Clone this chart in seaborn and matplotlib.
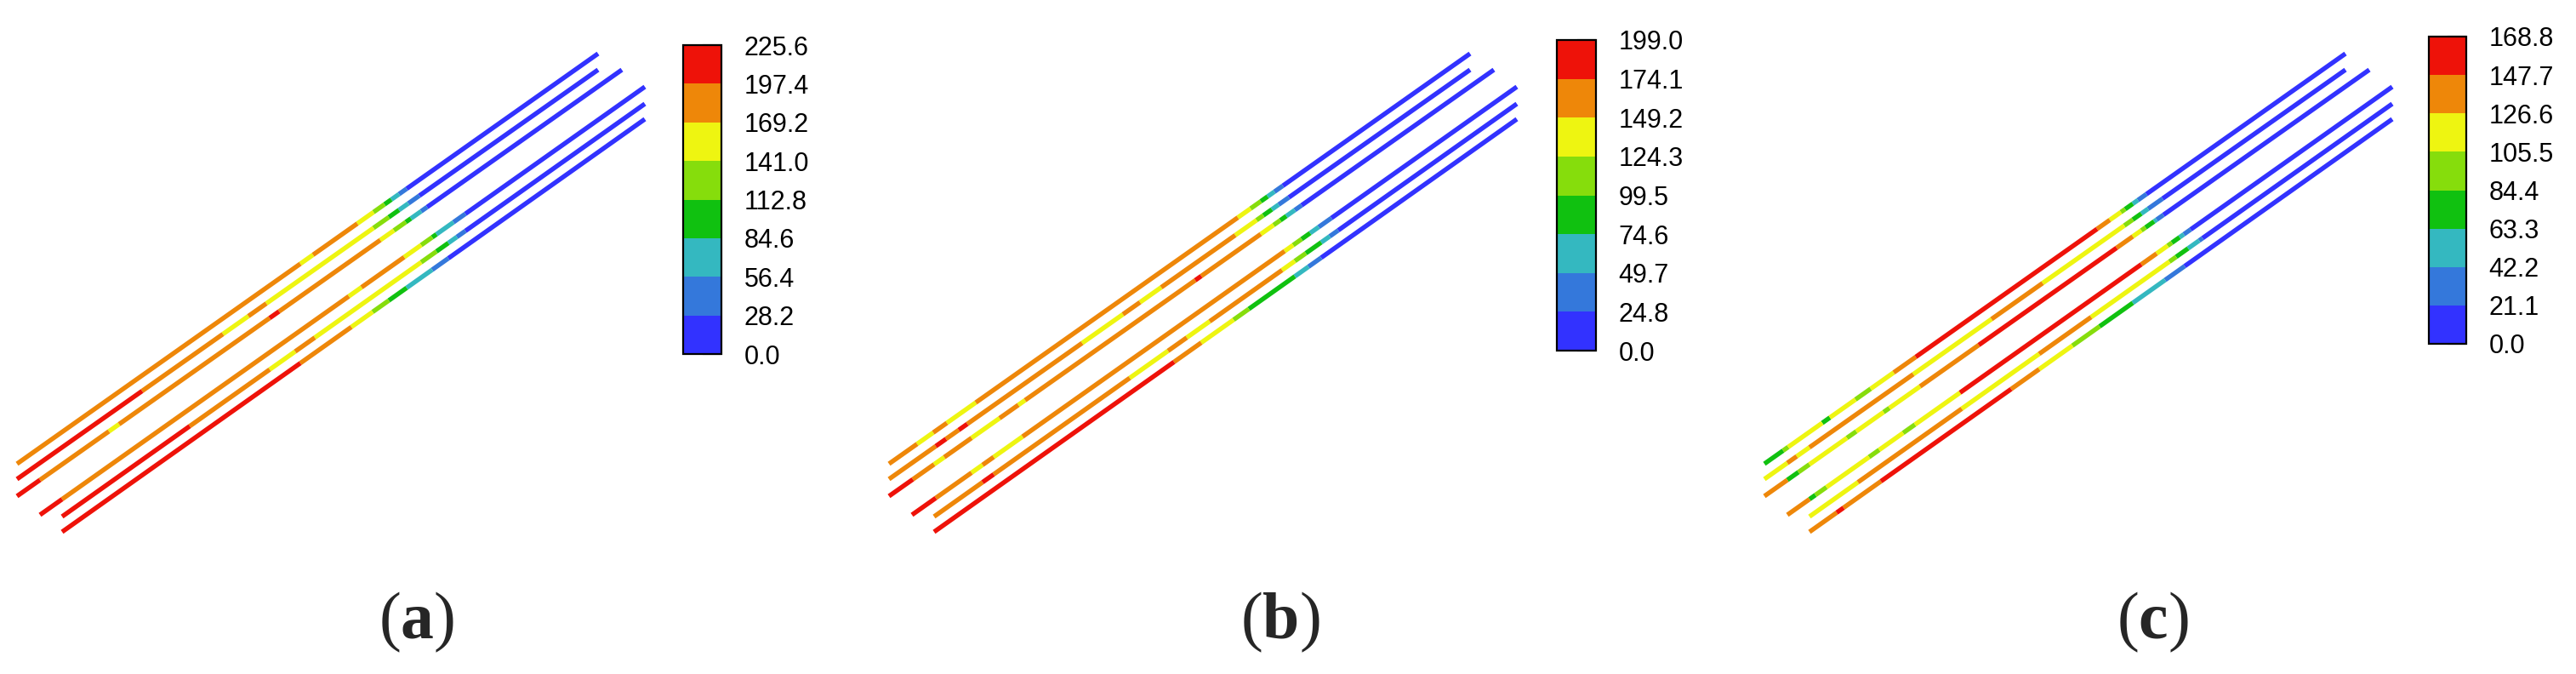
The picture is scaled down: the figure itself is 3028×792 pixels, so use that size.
import numpy as np
import pandas as pd
import matplotlib
matplotlib.use("Agg")
import matplotlib.pyplot as plt
from matplotlib.colors import ListedColormap, BoundaryNorm
from matplotlib.cm import ScalarMappable
from matplotlib import font_manager
import seaborn as sns

# tube centre lines (same view in all three panels), image units
tube_x0 = [20, 20, 20, 47, 73, 73]
tube_y0 = [545, 563, 583, 605, 607, 625]
tube_x1 = [703, 703, 731, 758, 758, 758]
tube_y1 = [63, 82, 82, 102, 122, 140]

# contour levels shown on the colour bars
levels_a = [0.0, 28.2, 56.4, 84.6, 112.8, 141.0, 169.2, 197.4, 225.6]
levels_b = [0.0, 24.8, 49.7, 74.6, 99.5, 124.3, 149.2, 174.1, 199.0]
levels_c = [0.0, 21.1, 42.2, 63.3, 84.4, 105.5, 126.6, 147.7, 168.8]

band_colors = ["#3232FF", "#3478DB", "#34B8C0", "#10C110",
               "#86DD0C", "#EEF511", "#EE8709", "#EE1209"]

# value along each tube: break positions (x) and value of each piece
breaks_a = [
    [20, 353, 368, 420, 439, 452, 460, 469, 478, 703],
    [20, 167, 262, 292, 313, 439, 457, 469, 480, 493, 703],
    [20, 47, 128, 140, 317, 328, 447, 463, 477, 483, 495, 502, 731],
    [47, 73, 410, 425, 475, 495, 508, 513, 533, 547, 758],
    [73, 223, 317, 347, 370, 495, 513, 527, 537, 547, 758],
    [73, 353, 413, 438, 457, 478, 508, 527, 758],
]
vals_a = [
    [183, 155, 183, 155, 127, 99, 70, 42, 14],
    [211, 183, 155, 183, 155, 127, 99, 70, 42, 14],
    [211, 183, 155, 183, 211, 183, 155, 127, 99, 70, 42, 14],
    [211, 183, 155, 183, 155, 127, 99, 70, 42, 14],
    [211, 183, 155, 183, 155, 127, 99, 70, 42, 14],
    [211, 183, 155, 127, 99, 70, 42, 14],
]

breaks_b = [
    [20, 53, 72, 88, 122, 430, 445, 457, 465, 473, 483, 703],
    [20, 75, 87, 102, 112, 247, 295, 315, 340, 427, 452, 460, 470, 478, 490, 703],
    [20, 48, 73, 85, 117, 150, 172, 180, 380, 387, 457, 472, 480, 487, 497, 505, 731],
    [47, 75, 117, 130, 143, 177, 485, 495, 505, 515, 525, 540, 758],
    [73, 130, 143, 303, 348, 370, 397, 482, 497, 510, 528, 538, 548, 758],
    [73, 355, 387, 425, 443, 497, 513, 528, 758],
]
vals_b = [
    [162, 137, 162, 137, 162, 137, 112, 87, 62, 37, 12],
    [162, 186, 162, 186, 162, 137, 162, 137, 162, 137, 112, 87, 62, 37, 12],
    [186, 162, 137, 162, 137, 162, 137, 162, 186, 162, 137, 112, 87, 62, 37, 12],
    [186, 162, 137, 162, 137, 162, 137, 112, 87, 62, 37, 12],
    [162, 186, 162, 137, 162, 137, 162, 137, 112, 87, 62, 37, 12],
    [186, 162, 137, 112, 87, 62, 37, 12],
]

breaks_c = [
    [20, 42, 48, 88, 97, 127, 145, 172, 198, 411, 426, 439, 444, 453, 459, 469, 703],
    [20, 47, 58, 73, 195, 287, 347, 443, 453, 463, 471, 488, 703],
    [20, 47, 60, 73, 117, 128, 160, 167, 203, 272, 434, 453, 463, 468, 478, 481, 489, 731],
    [47, 73, 80, 93, 143, 155, 183, 197, 250, 463, 481, 494, 499, 508, 513, 521, 758],
    [73, 130, 252, 343, 404, 496, 504, 518, 531, 535, 758],
    [73, 105, 113, 157, 310, 343, 382, 414, 453, 491, 514, 758],
]
vals_c = [
    [74, 95, 116, 74, 116, 95, 116, 137, 158, 137, 116, 95, 74, 53, 32, 11],
    [116, 137, 116, 137, 116, 137, 116, 95, 74, 53, 32, 11],
    [137, 74, 95, 116, 95, 116, 95, 116, 137, 158, 137, 116, 95, 74, 53, 32, 11],
    [137, 74, 95, 116, 95, 116, 95, 116, 158, 137, 116, 95, 74, 53, 32, 11],
    [116, 137, 116, 137, 116, 95, 74, 53, 32, 11],
    [137, 158, 137, 158, 137, 116, 95, 74, 53, 32, 11],
]

panel_labels = ["a", "b", "c"]

W, H = 3028, 792

sns.set_theme(style="white")
names = {f.name for f in font_manager.fontManager.ttflist}
tick_font = "Liberation Sans Narrow" if "Liberation Sans Narrow" in names else "Liberation Sans"
plt.rcParams["font.family"] = ["Liberation Sans", "DejaVu Sans"]
plt.rcParams["mathtext.fontset"] = "custom"
plt.rcParams["mathtext.rm"] = "Liberation Serif"
plt.rcParams["mathtext.bf"] = "Liberation Serif:bold"


def tube_frame(breaks, vals):
    rows = []
    for i, (bk, vv) in enumerate(zip(breaks, vals)):
        slope = (tube_y1[i] - tube_y0[i]) / (tube_x1[i] - tube_x0[i])
        for j, v in enumerate(vv):
            for xb in (bk[j], bk[j + 1]):
                rows.append({"x": xb,
                             "y": tube_y0[i] + (xb - tube_x0[i]) * slope,
                             "value": v, "seg": f"{i}-{j}"})
    return pd.DataFrame(rows)


def px_box(x0, y0, x1, y1):
    return [x0 / W, 1 - y1 / H, (x1 - x0) / W, (y1 - y0) / H]


fig = plt.figure(figsize=(W / 100, H / 100), dpi=100)
cmap = ListedColormap(sns.color_palette(band_colors))

panels = [(breaks_a, vals_a, levels_a), (breaks_b, vals_b, levels_b),
          (breaks_c, vals_c, levels_c)]
offsets = [0, 1025, 2054]
cbar_boxes = [(803, 53, 848, 416), (1830, 47, 1876, 412), (2855, 43, 2899, 404)]
label_x = [490, 1505, 2530]

for (bk, vv, lev), off, cbox, lx, lab in zip(panels, offsets, cbar_boxes,
                                              label_x, panel_labels):
    norm = BoundaryNorm(lev, cmap.N)
    ax = fig.add_axes(px_box(off, 0, off + 800, H))
    df = tube_frame(bk, vv)
    sns.lineplot(data=df, x="x", y="y", hue="value", units="seg",
                 estimator=None, sort=False, palette=cmap, hue_norm=norm,
                 legend=False, linewidth=3.9, solid_capstyle="butt", ax=ax)
    ax.set_xlim(0, 800)
    ax.set_ylim(H, 0)
    ax.axis("off")

    cax = fig.add_axes(px_box(*cbox))
    cb = fig.colorbar(ScalarMappable(norm=norm, cmap=cmap), cax=cax,
                      ticks=lev, spacing="uniform")
    cb.ax.set_yticklabels([f"{v:.1f}" for v in lev], fontfamily=tick_font)
    cb.outline.set_linewidth(1.6)
    cb.outline.set_edgecolor("black")
    cb.ax.tick_params(direction="in", length=16, width=1.5, pad=19,
                      labelsize=22, colors="black")
    cb.ax.minorticks_off()

    fig.text(lx / W, 1 - 731 / H, "($\\mathbf{" + lab + "}$)",
             family="Liberation Serif", fontsize=56, ha="center", va="center")

fig.savefig("out.png", dpi=100, facecolor="white")
